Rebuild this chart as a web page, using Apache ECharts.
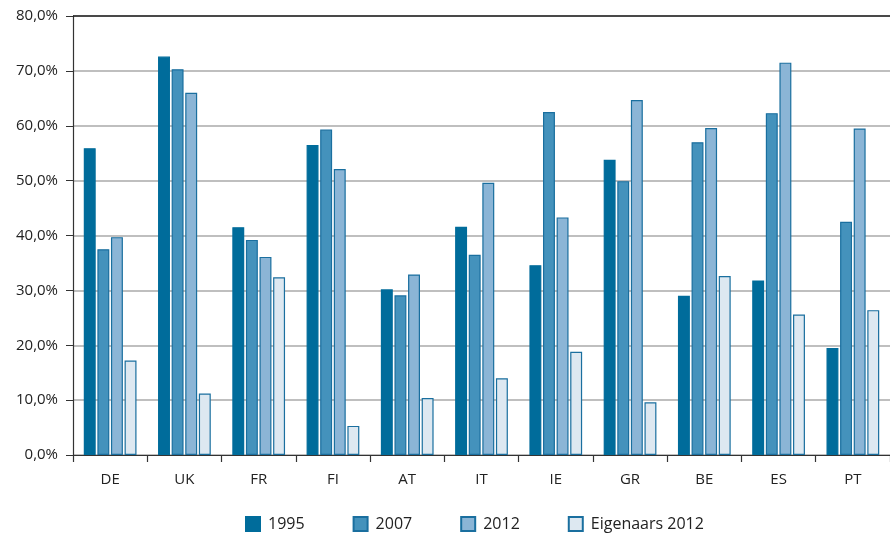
<!DOCTYPE html>
<html><head><meta charset="utf-8">
<script src="https://cdn.jsdelivr.net/npm/echarts@6/dist/echarts.min.js"></script>
<style>html,body{margin:0;padding:0;background:#fff}#c{width:890px;height:539px}</style>
</head><body><div id="c"></div>
<script>
const categories = ['DE','UK','FR','FI','AT','IT','IE','GR','BE','ES','PT'];
const s1995 = [55.9,72.6,41.5,56.5,30.2,41.6,34.6,53.8,29.0,31.8,19.5];
const s2007 = [37.5,70.3,39.2,59.3,29.1,36.5,62.5,49.9,57.0,62.3,42.5];
const s2012 = [39.7,66.0,36.1,52.1,32.9,49.6,43.3,64.7,59.6,71.5,59.5];
const sEig  = [17.2,11.2,32.4,5.3,10.4,14.0,18.8,9.6,32.6,25.6,26.4];
const seriesNames = ['1995','2007','2012','Eigenaars 2012'];
const yTicks = [0,10,20,30,40,50,60,70,80];

const font = '"Open Sans", "Noto Sans", sans-serif';
const fills = ['#006c9b','#4492bc','#8bb5d6','#dde8f1'];
const borders = ['#006c9b','#1a6f9f','#1a6f9f','#1a6f9f'];
const data = [s1995,s2007,s2012,sEig];

const chart = echarts.init(document.getElementById('c'));
chart.setOption({
  animation:false,
  textStyle:{fontFamily:font},
  grid:{left:73,top:16,width:819,height:439,containLabel:false},
  legend:{
    bottom:2,left:240,itemWidth:14,itemHeight:14,itemGap:48,
    icon:'rect',
    textStyle:{fontSize:16,color:'#222',fontFamily:font,padding:[0,0,0,3]},
    data:seriesNames
  },
  xAxis:{
    type:'category',data:categories,
    axisLine:{lineStyle:{color:'#333',width:1.2}},
    axisTick:{show:true,length:7,lineStyle:{color:'#333',width:1.2}},
    axisLabel:{fontSize:15,color:'#222',margin:17,fontFamily:font}
  },
  yAxis:{
    type:'value',min:0,max:80,interval:10,
    axisLine:{show:true,lineStyle:{color:'#333',width:1.2}},
    axisTick:{show:true,inside:false,length:7,lineStyle:{color:'#333'}},
    splitLine:{lineStyle:{color:'#aaa',width:1.5}},
    axisLabel:{fontSize:15,color:'#222',margin:15,fontFamily:font,
      formatter:v=>v.toFixed(1).replace('.',',')+'%'}
  },
  series:seriesNames.map((n,i)=>({
    name:n,type:'bar',data:data[i],
    barGap:'14%',barCategoryGap:'29%',
    itemStyle:{color:fills[i],borderColor:borders[i],borderWidth:1.2}
  })).concat([{
    type:'line',data:[],markLine:{silent:true,symbol:'none',label:{show:false},
      lineStyle:{color:'#222',width:1.5,type:'solid'},data:[{yAxis:80}]}
  }])
});
</script></body></html>
